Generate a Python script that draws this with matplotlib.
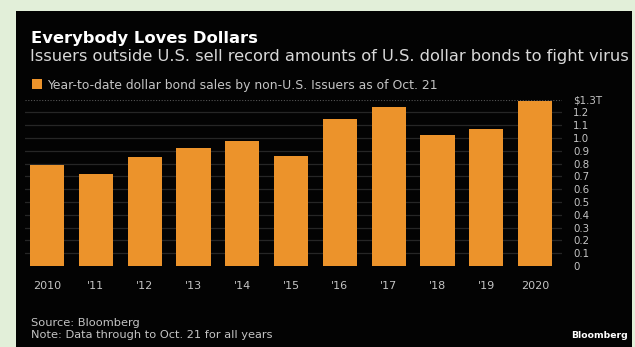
import matplotlib.pyplot as plt
from matplotlib.patches import Rectangle

years = ["2010", "'11", "'12", "'13", "'14", "'15", "'16", "'17", "'18", "'19", "2020"]
sales = [0.79, 0.72, 0.85, 0.92, 0.98, 0.86, 1.15, 1.24, 1.02, 1.07, 1.29]
yticks = [0, 0.1, 0.2, 0.3, 0.4, 0.5, 0.6, 0.7, 0.8, 0.9, 1.0, 1.1, 1.2, 1.3]
ylabels = ["0", "0.1", "0.2", "0.3", "0.4", "0.5", "0.6", "0.7", "0.8", "0.9",
           "1.0", "1.1", "1.2", "$1.3T"]

orange = "#ec932b"
grey = "#c4c4c4"

fig = plt.figure(figsize=(6.35, 3.47), dpi=100)
fig.patch.set_facecolor("#e2efd9")
# black card
fig.patches.append(Rectangle((16 / 635, 0), (632 - 16) / 635, 1 - 11 / 347,
                             transform=fig.transFigure, facecolor="#030303",
                             edgecolor="none", zorder=0))

ax = fig.add_axes([25 / 635, 1 - 266 / 347, 537 / 635, 166.4 / 347])
ax.set_zorder(2)
ax.set_facecolor("none")
x = range(len(years))
ax.bar(x, sales, width=0.7, color=orange, zorder=3)
ax.set_xlim(-0.45, 10.55)
ax.set_ylim(0, 1.3)

for v in yticks[1:-1]:
    ax.axhline(v, color="#262626", lw=0.9, zorder=1)
ax.axhline(1.3, color="#555555", lw=0.8, ls=(0, (1, 1.5)), zorder=1)

for s in ax.spines.values():
    s.set_visible(False)
ax.set_xticks(list(x))
ax.set_xticklabels(years, color=grey, fontsize=8)
ax.tick_params(axis="x", length=0, pad=11)
ax.yaxis.tick_right()
ax.set_yticks(yticks)
ax.set_yticklabels(ylabels, color=grey, fontsize=7.4)
ax.tick_params(axis="y", length=0, pad=8)
for lab in ax.get_yticklabels():
    lab.set_horizontalalignment("left")

fig.text(31 / 635, 1 - 38 / 347, "Everybody Loves Dollars", color="white",
         fontsize=11.8, fontweight="bold", va="center")
fig.text(30 / 635, 1 - 57 / 347,
         "Issuers outside U.S. sell record amounts of U.S. dollar bonds to fight virus",
         color="#d8d8d8", fontsize=11.7, va="center")
fig.patches.append(Rectangle((32 / 635, 1 - 89 / 347), 10 / 635, 10 / 347,
                             transform=fig.transFigure, facecolor=orange,
                             edgecolor="none", zorder=2))
fig.text(47 / 635, 1 - 85 / 347,
         "Year-to-date dollar bond sales by non-U.S. Issuers as of Oct. 21",
         color=grey, fontsize=8.9, va="center")
fig.text(31 / 635, 1 - 323 / 347, "Source: Bloomberg", color=grey,
         fontsize=8.2, va="center")
fig.text(31 / 635, 1 - 335 / 347, "Note: Data through to Oct. 21 for all years",
         color=grey, fontsize=8.2, va="center")
fig.text(628 / 635, 1 - 336 / 347, "Bloomberg", color="white", fontsize=6.7,
         fontweight="bold", ha="right", va="center")

fig.savefig("out.png", dpi=100, facecolor=fig.get_facecolor())
